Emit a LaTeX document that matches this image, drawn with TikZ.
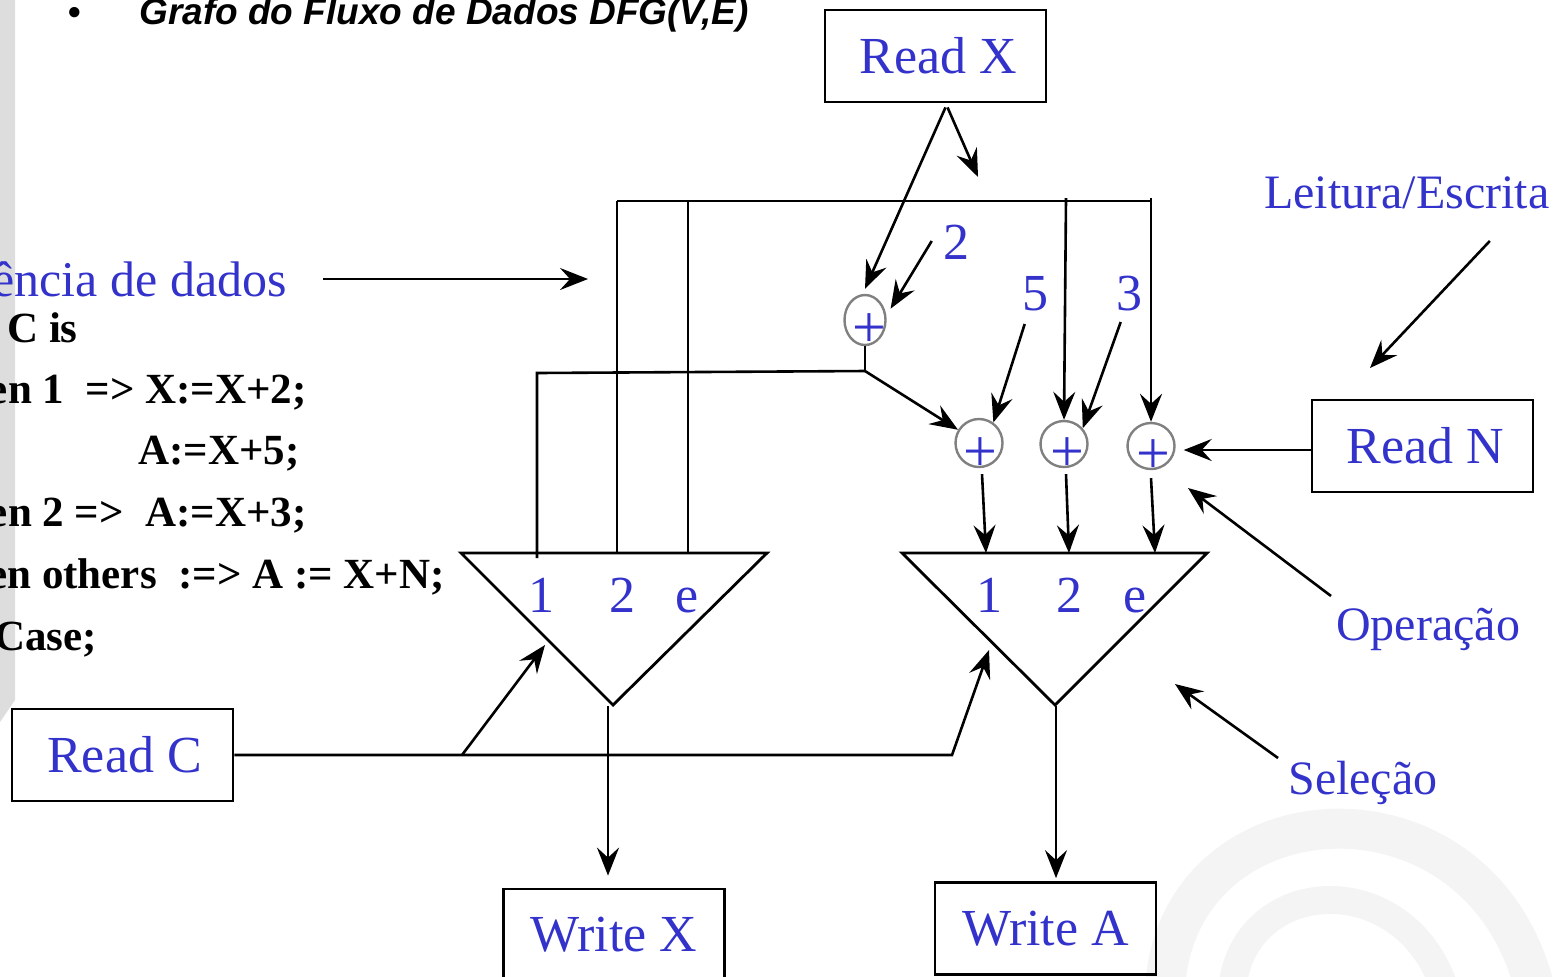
\documentclass[tikz,border=0pt]{standalone}
\usepackage{fontspec}
\setmainfont{Liberation Serif}
\newfontfamily\titlefont{Liberation Sans}
\usetikzlibrary{arrows.meta,shapes.geometric}
\definecolor{lblue}{RGB}{51,51,204}
\definecolor{stripgray}{RGB}{221,221,221}
\definecolor{swirlgray}{RGB}{244,244,244}
\begin{document}
\begin{tikzpicture}[x=0.5pt,y=-0.5pt,
  line width=1.3pt,
  box/.style={draw, line width=1.4pt, minimum width=110.5pt, minimum height=46pt,
    inner sep=0pt, text=lblue, font=\fontsize{26}{30}\selectfont},
  adder/.style={draw=gray, line width=1.2pt, ellipse, inner sep=0pt},
  plussign/.style={text=lblue, font=\fontsize{30}{34}\selectfont, inner sep=0pt},
  lbl/.style={text=lblue, font=\fontsize{24}{28}\selectfont, inner sep=0pt},
  num/.style={text=lblue, font=\fontsize{26}{30}\selectfont, inner sep=0pt, anchor=base},
  code/.style={font=\fontsize{21.5}{26}\selectfont\bfseries, inner sep=0pt, anchor=base east},
  arr/.style={-{Stealth[length=14pt,width=11pt,inset=5pt]}},
  tri/.style={line width=1.4pt, line join=miter},
]
\useasboundingbox (0,0) rectangle (1566,976);
\clip (0,0) rectangle (1566,976);

% background decoration
\fill[stripgray] (0,0) -- (15,0) -- (15,700) -- (0,722) -- cycle;
\draw[swirlgray, line width=20pt] (1165,990) .. controls (1175,785) and (1480,765) .. (1535,990);
\draw[swirlgray, line width=14pt] (1232,990) .. controls (1242,875) and (1405,865) .. (1445,990);

% title
\node[anchor=base, font=\titlefont\bfseries\fontsize{18}{20}\selectfont, inner sep=0pt] (bullet) at (75,24) {•};
\node[anchor=base west, font=\titlefont\bfseries\itshape\fontsize{18.5}{20}\selectfont, inner sep=0pt] (title) at (138,24) {Grafo do Fluxo de Dados DFG(V,E)};

% code
\node[code] (c0) at (79,342) {Case C is};
\node[code] (c1) at (308,403) {when 1\ \ => X:=X+2;};
\node[code] (c2) at (301,464) {A:=X+5;};
\node[code] (c3) at (308,526) {when 2 =>\ \ A:=X+3;};
\node[code] (c4) at (446,588) {when others\ \ :=> A := X+N;};
\node[code] (c5) at (98,650) {end Case;};

% boxes
\node[box] (rx) at (935.5,56) {\hspace*{3pt}Read X};
\node[box] (rn) at (1422.5,446) {\hspace*{3pt}Read N};
\node[box] (rc) at (122.5,755) {\hspace*{2pt}Read C};
\node[box] (wx) at (614,935) {\raisebox{-2.5pt}{Write X}};
\node[box] (wa) at (1045.5,928.5) {Write A};

% adders
\node[adder, minimum width=20.5pt, minimum height=25pt] (p1) at (865,320) {};
\node[adder, minimum width=23.5pt, minimum height=24pt] (p2) at (979,443) {};
\node[adder, minimum width=23.5pt, minimum height=23pt] (p3) at (1064,444) {};
\node[adder, minimum width=23.5pt, minimum height=23pt] (p4) at (1151,446) {};
\node[plussign] (q1) at (869,331) {+};
\node[plussign] (q2) at (980,455) {+};
\node[plussign] (q3) at (1067,455) {+};
\node[plussign] (q4) at (1153,457) {+};

% constants
\node[num] (k2) at (956,259) {2};
\node[num] (k5) at (1035,310) {5};
\node[num] (k3) at (1129,310) {3};

% selectors (triangles)
\coordinate (t1a) at (461,553); \coordinate (t1b) at (767,553); \coordinate (t1c) at (613,705);
\coordinate (t2a) at (902,553); \coordinate (t2b) at (1207,553); \coordinate (t2c) at (1055,705);
\draw[tri] (t1a) -- (t1b) -- (t1c) -- cycle;
\draw[tri] (t2a) -- (t2b) -- (t2c) -- cycle;
\node[num] (s11) at (541,612) {1};
\node[num] (s12) at (622,612) {2};
\node[num] (s1e) at (687,612) {e};
\node[num] (s21) at (989,612) {1};
\node[num] (s22) at (1069,612) {2};
\node[num] (s2e) at (1135,612) {e};

% inputs of the selectors
\coordinate (i11) at (537,558); \coordinate (i12) at (617,553); \coordinate (i1e) at (688,553);
\coordinate (i21) at (986,553); \coordinate (i22) at (1069,553); \coordinate (i2e) at (1155,553);
\coordinate (sel1) at (545,645); \coordinate (sel2) at (989,650);

% bus from Read X
\coordinate (b0) at (617,201); \coordinate (b1) at (688,201);
\coordinate (b2) at (1066,198); \coordinate (b3) at (1151,198);
\coordinate (bx) at (978,177);
\draw (b0) -- (1151,201);
\draw (b0) -- (i12);
\draw (b1) -- (i1e);
\draw[arr] (b2) -- (p3.north);
\draw[arr] (b3) -- (p4.north);
\draw[arr] ([shift={(5pt,-2pt)}]rx.south) -- ([yshift=2.5pt]p1.north);
\draw[arr] ([shift={(6pt,-2pt)}]rx.south) -- (bx);

% constant arrows
\draw[arr] ([shift={(-5pt,9pt)}]k2.base west) -- ([xshift=3pt]p1.30);
\draw[arr] ([shift={(2pt,-7pt)}]k5.base west) -- (p2.55);
\draw[arr] ([shift={(3pt,-6pt)}]k3.base west) -- (p3.40);

% adder 1 output
\coordinate (j1) at (865,371);
\draw (p1.south) -- (j1);
\draw (j1) -- (537,373) -- (i11);
\draw[arr] (j1) -- (p2);

% Read N
\draw[arr] ([yshift=-2pt]rn.west) -- ([shift={(4pt,-2pt)}]p4.east);

% adders to selector 2
\draw[arr] ([shift={(1.5pt,-3pt)}]p2.south) -- (i21);
\draw[arr] ([shift={(1pt,-3pt)}]p3.south) -- (i22);
\draw[arr] ([shift={(0pt,-4pt)}]p4.south) -- (i2e);

% Read C
\coordinate (rc1) at (462,755); \coordinate (rc2) at (952,755);
\draw[arr] (rc.east) -- (rc2) -- (sel2);
\draw[arr] (rc1) -- (sel1);

% outputs
\coordinate (o1) at (608,706); \coordinate (o2) at (1056,706);
\draw[arr, shorten >=6pt] (o1) -- (o1 |- wx.north);
\draw[arr, shorten >=1.5pt] (o2) -- (o2 |- wa.north);

% annotations
\node[lbl, anchor=base east, font=\fontsize{25}{28}\selectfont] (ldep) at (288,296) {Dependência de dados};
\node[lbl, anchor=base west] (lle) at (1263,208) {Leitura/Escrita};
\node[lbl, anchor=base west] (lop) at (1335,640) {Operação};
\node[lbl, anchor=base west] (lse) at (1287,794) {Seleção};
\coordinate (adep) at (588,279);
\coordinate (ale) at (1370,368);
\coordinate (aop) at (1188,488);
\coordinate (ase) at (1175,684);
\draw[arr] ([shift={(17.5pt,8.5pt)}]ldep.base east) -- (adep);
\draw[arr] ([shift={(-30.5pt,-16.5pt)}]lle.base east) -- (ale);
\draw[arr] ([shift={(-2pt,22pt)}]lop.base west) -- (aop);
\draw[arr] ([shift={(-4.5pt,18pt)}]lse.base west) -- (ase);
\end{tikzpicture}
\end{document}
